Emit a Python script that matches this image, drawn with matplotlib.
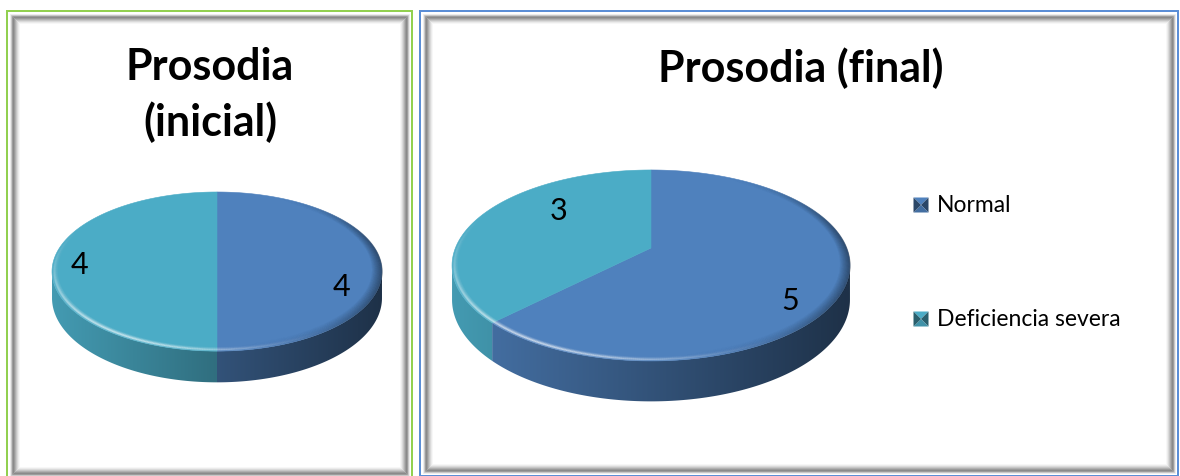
import numpy as np
import matplotlib.pyplot as plt
import matplotlib.colors as mcolors
from matplotlib.patches import Rectangle, Polygon
from matplotlib.collections import LineCollection

# datos
categorias = ['Normal', 'Deficiencia severa']
inicial = [4, 4]
final = [5, 3]
titulos = ['Prosodia\n(inicial)', 'Prosodia (final)']
colores = ['#4F81BD', '#4BACC6']

W, H = 1180, 477
PX = 72 / 100  # un pixel en puntos
FONT = ['Lato', 'DejaVu Sans']
PERSP = 0.183  # perspectiva del disco

fig = plt.figure(figsize=(W / 100, H / 100), dpi=100)
ax = fig.add_axes([0, 0, 1, 1])
ax.axis('off')


def marco(x0, y0, x1, y1, borde):
    ax.add_patch(Rectangle((x0, y0), x1 - x0, y1 - y0, fc='white', ec=borde,
                           lw=2 * PX, zorder=0))
    grises = ['#ececec', '#c8c8c8', '#9c9c9c', '#8a8a8a', '#9a9a9a', '#b0b0b0',
              '#c6c6c6', '#dadada', '#ebebeb', '#f7f7f7']
    for i, g in enumerate(grises):
        k = 3 + i
        ax.add_patch(Rectangle((x0 + k, y0 + k), x1 - x0 - 2 * k, y1 - y0 - 2 * k,
                               fill=False, ec=g, lw=PX, zorder=0.5))


def anillo(proj, ang, r, rgba):
    xs, ys = proj(ang, r=r)
    pts = np.c_[xs, ys]
    segs = np.stack([pts[:-1], pts[1:]], axis=1)
    ax.add_collection(LineCollection(segs, colors=rgba, linewidths=1.2 * PX, zorder=4))


def pie3d(valores, cx, cy, rx, ry, prof, pos_etq):
    def proj(ang, r=1.0, dz=0.0):
        t = np.radians(ang)
        X, Y = r * np.cos(t), r * np.sin(t)
        s = 1 / (1 + PERSP * Y)
        return cx + rx * X * s, cy - ry * Y * s + dz * s

    total = sum(valores)
    ini = 90.0
    limites = []
    for v in valores:
        fin = ini - 360 * v / total
        limites.append((fin, ini))
        ini = fin

    # lateral visible
    alfa = np.degrees(np.arcsin(PERSP))
    u = np.linspace(0, 1, 256)
    f = 0.9 - 0.52 * u
    for (a, b), c in zip(limites, colores):
        lo, hi = max(a, -180 + alfa), min(b, -alfa)
        if hi <= lo:
            continue
        ang = np.linspace(lo, hi, 150)
        xs, ys = proj(ang)
        xb, yb = proj(ang, dz=prof)
        verts = np.r_[np.c_[xs, ys], np.c_[xb[::-1], yb[::-1]]]
        clip = Polygon(verts, closed=True, fc='none', ec='none', transform=ax.transData)
        ax.add_patch(clip)
        rgb = np.array(mcolors.to_rgb(c))
        img = (f[:, None] * rgb[None, :])[None, :, :]
        ancho = rx * 1.02
        im = ax.imshow(img, extent=(cx - ancho, cx + ancho, cy + 2 * ry + prof * 2, cy - 2 * ry),
                       aspect='auto', interpolation='bilinear', zorder=2)
        im.set_clip_path(clip)

    # cara superior
    for (a, b), c in zip(limites, colores):
        xs, ys = proj(np.linspace(a, b, 300))
        verts = np.r_[[[cx, cy]], np.c_[xs, ys]]
        ax.add_patch(Polygon(verts, closed=True, fc=c, ec=c, lw=0.4, zorder=3))

    # bisel del borde: brillo delante a la izquierda, sombra a la derecha
    ang = np.linspace(-270, 90, 721)
    am = np.radians(0.5 * (ang[:-1] + ang[1:]))
    luz = np.clip(np.cos(am - np.radians(-128)), 0, None) ** 3
    sombra = np.clip(np.cos(am - np.radians(-12)), 0, None) ** 4
    for k, peso in [(1, 0.25), (2, 0.75), (3, 0.6), (4, 0.3), (5, 0.15)]:
        rgba = np.ones((len(am), 4))
        rgba[:, 3] = 0.8 * luz * peso
        anillo(proj, ang, 1 - k / rx, rgba)
    for k in range(10):
        rgba = np.zeros((len(am), 4))
        rgba[:, 3] = 0.4 * sombra * (1 - k / 10)
        anillo(proj, ang, 1 - k / rx, rgba)

    for v, (dx, dy) in zip(valores, pos_etq):
        ax.text(cx + dx * rx, cy + dy * ry, str(v), ha='center', va='center',
                fontsize=22, family=FONT, color='black', zorder=5)


def marcador(x, y, c, s=15):
    base = np.array(mcolors.to_rgb(c))
    h = s / 2
    esquinas = [(x - h, y - h), (x + h, y - h), (x + h, y + h), (x - h, y + h)]
    tonos = [1.0, 0.55, 0.85, 0.55]  # arriba, derecha, abajo, izquierda
    for i, tono in enumerate(tonos):
        tri = [esquinas[i], esquinas[(i + 1) % 4], (x, y)]
        ax.add_patch(Polygon(tri, closed=True, fc=base * tono, ec='none', zorder=5))


# paneles
marco(6.5, 11.5, 412, 480, '#92D050')
marco(419.5, 11.5, 1178, 476.5, '#5B8ED6')

# grafico inicial
ax.text(210, 47, titulos[0], ha='center', va='top', fontsize=31, weight='bold',
        family=FONT, linespacing=1.42, zorder=5)
pie3d(inicial, 217, 258, 162.2, 76.9, 25.5, [(0.765, 0.377), (-0.845, 0.09)])

# grafico final
ax.text(801, 47, titulos[1], ha='center', va='top', fontsize=31, weight='bold',
        family=FONT, zorder=5)
pie3d(final, 651, 249, 195.6, 92.3, 33, [(0.71, 0.56), (-0.475, -0.41)])

# leyenda
for cat, c, y in zip(categorias, colores, [206, 320]):
    marcador(921, y, c)
    ax.text(937, y, cat, ha='left', va='center', fontsize=16.5, family=FONT, zorder=5)

ax.set_xlim(0, W)
ax.set_ylim(H, 0)
fig.savefig('out.png', dpi=100)
